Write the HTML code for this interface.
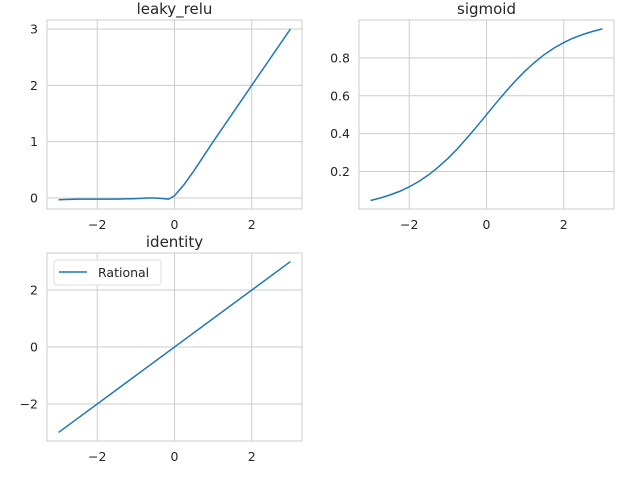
<!DOCTYPE html>
<html><head><meta charset="utf-8">
<style>
body{margin:0;background:#fff;font-family:"DejaVu Sans","Liberation Sans",sans-serif;}
svg text{fill:#262626;font-family:"DejaVu Sans","Liberation Sans",sans-serif;}
</style></head>
<body>
<svg id="c" width="640" height="480" viewBox="0 0 640 480"></svg>
<script>
const leakyX=[-3,-2.5,-2,-1.5,-1,-0.7,-0.5,-0.3,-0.15,0,0.1,0.25,0.5,1,1.5,2,2.5,3];
const leakyY=[-0.03,-0.02,-0.02,-0.02,-0.01,0.0,0.0,-0.01,-0.02,0.04,0.12,0.24,0.48,1.0,1.5,2.0,2.5,3.0];
const sigX=[-3,-2.75,-2.5,-2.25,-2,-1.75,-1.5,-1.25,-1,-0.75,-0.5,-0.25,0,0.25,0.5,0.75,1,1.25,1.5,1.75,2,2.25,2.5,2.75,3];
const sigY=[0.047,0.060,0.076,0.095,0.119,0.148,0.182,0.223,0.269,0.321,0.378,0.438,0.5,0.562,0.622,0.679,0.731,0.777,0.818,0.852,0.881,0.905,0.924,0.940,0.953];
const idX=[-3,3];
const idY=[-3,3];
const xTicks=[-2,0,2];
const leakyTicks=[0,1,2,3];
const sigTicks=[0.2,0.4,0.6,0.8];
const idTicks=[-2,0,2];
const NS="http://www.w3.org/2000/svg";
const svg=document.getElementById('c');
function mk(tag,attrs,parent){const e=document.createElementNS(NS,tag);for(const k in attrs)e.setAttribute(k,attrs[k]);(parent||svg).appendChild(e);return e;}
function panel(name,box,xlim,ylim,xs,ys,yt,ylab,title,legend){
  const g=mk('g',{});
  
  
  const sx=v=>box.x+(v-xlim[0])/(xlim[1]-xlim[0])*box.w;
  const sy=v=>box.y+box.h-(v-ylim[0])/(ylim[1]-ylim[0])*box.h;
  xTicks.forEach(t=>{
    const l=mk('line',{x1:sx(t),x2:sx(t),y1:box.y,y2:box.y+box.h,stroke:'#cccccc','stroke-width':1},g);
    
    const tx=mk('text',{x:sx(t),y:box.y+box.h+20,'text-anchor':'middle','font-size':'12.5'},g);
    tx.textContent=(t<0?'\u2212'+(-t):t);
    
  });
  yt.forEach((t,i)=>{
    const l=mk('line',{x1:box.x,x2:box.x+box.w,y1:sy(t),y2:sy(t),stroke:'#cccccc','stroke-width':1},g);
    
    const tx=mk('text',{x:box.x-9,y:sy(t)+4.5,'text-anchor':'end','font-size':'12.5'},g);
    tx.textContent=ylab[i];
    
  });
  const r=mk('rect',{x:box.x,y:box.y,width:box.w,height:box.h,fill:'none',stroke:'#cccccc','stroke-width':1},g);
  
  const p=mk('polyline',{points:xs.map((x,i)=>sx(x)+','+sy(ys[i])).join(' '),fill:'none',stroke:'#1f77b4','stroke-width':1.5,'stroke-linejoin':'round'},g);
  
  const tt=mk('text',{x:box.x+box.w/2,y:box.y-6,'text-anchor':'middle','font-size':'15'},g);
  tt.textContent=title;
  
  if(legend){
    const lg=mk('g',{},g);
    
    mk('rect',{x:box.x+7,y:box.y+7,width:107,height:25,rx:3,fill:'#fff',stroke:'#dddddd'},lg);
    mk('line',{x1:box.x+12,x2:box.x+40,y1:box.y+19,y2:box.y+19,stroke:'#1f77b4','stroke-width':1.5},lg);
    const lt=mk('text',{x:box.x+51,y:box.y+24,'font-size':'12.5'},lg);
    lt.textContent='Rational';
    
  }
}
const xl=[-3.3,3.3];
panel('leaky-relu',{x:47,y:20,w:255,h:189},xl,[-0.195,3.16],leakyX,leakyY,leakyTicks,['0','1','2','3'],'leaky_relu',false);
panel('sigmoid',{x:359,y:20,w:255,h:189},xl,[0.002,1.0],sigX,sigY,sigTicks,['0.2','0.4','0.6','0.8'],'sigmoid',false);
panel('identity',{x:47,y:253,w:255,h:188},xl,[-3.3,3.3],idX,idY,idTicks,['\u22122','0','2'],'identity',true);
</script>
</body></html>
